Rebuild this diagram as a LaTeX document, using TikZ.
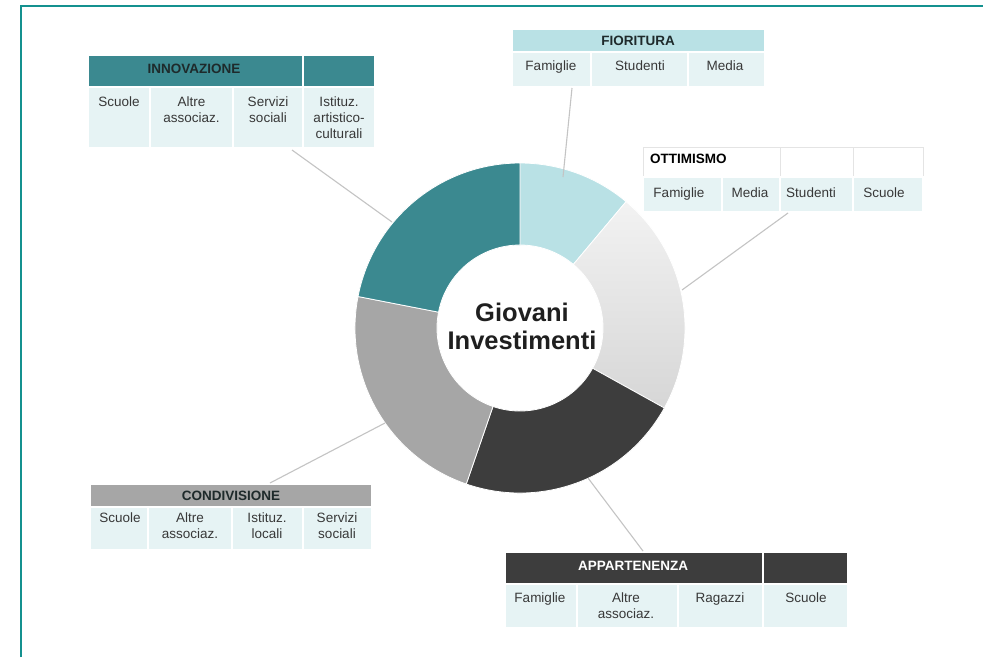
\documentclass[tikz,border=0pt]{standalone}
\usepackage{fontspec}
\setmainfont{Liberation Sans}
\definecolor{bordercol}{HTML}{14918F}
\definecolor{tealS}{HTML}{3B8990}
\definecolor{segLB}{HTML}{B9E1E5}
\definecolor{segDark}{HTML}{3D3D3D}
\definecolor{segGrey}{HTML}{A6A6A6}
\definecolor{cellbg}{HTML}{E6F3F4}
\definecolor{txtgray}{HTML}{383838}
\definecolor{hdrtxt}{HTML}{1E2A2B}
\definecolor{lineGray}{HTML}{C4C4C4}
\definecolor{hdrline}{HTML}{E4E4E4}
\begin{document}
\begin{tikzpicture}[x=1pt,y=-1pt,
  txt/.style={font=\fontsize{13.5}{16}\selectfont, text=txtgray, align=center, inner sep=0pt, anchor=north},
  hdr/.style={font=\bfseries\fontsize{13.5}{16}\selectfont, text=hdrtxt, inner sep=0pt},
  bodycell/.style={fill=cellbg, draw=white, line width=1.5pt},
  hdrcell/.style={draw=white, line width=1.5pt},
  conn/.style={draw=lineGray, line width=1.1pt},
  sep/.style={draw=white, line width=0.8pt}]
\useasboundingbox (0,0) rectangle (983,657);
\fill[white] (0,0) rectangle (983,657);
\draw[bordercol, line width=2.6pt] (21,657) -- (21,6) -- (983,6);

% ---------------- donut ----------------
\begin{scope}[shift={(520,328)}]
\fill[segLB,sep] (-90:165) arc[start angle=-90,end angle=-50,radius=165] -- (-50:83) arc[start angle=-50,end angle=-90,radius=83] -- cycle;
\shade[top color=white!95!black, bottom color=white!84!black] (-50:165) arc[start angle=-50,end angle=29,radius=165] -- (29:83) arc[start angle=29,end angle=-50,radius=83] -- cycle;
\draw[sep] (-50:165) arc[start angle=-50,end angle=29,radius=165] -- (29:83) arc[start angle=29,end angle=-50,radius=83] -- cycle;
\fill[segDark,sep] (29:165) arc[start angle=29,end angle=109,radius=165] -- (109:83) arc[start angle=109,end angle=29,radius=83] -- cycle;
\fill[segGrey,sep] (109:165) arc[start angle=109,end angle=191,radius=165] -- (191:83) arc[start angle=191,end angle=109,radius=83] -- cycle;
\fill[tealS,sep] (191:165) arc[start angle=191,end angle=270,radius=165] -- (270:83) arc[start angle=270,end angle=191,radius=83] -- cycle;
\fill[white] (0,0) circle[radius=82];
\end{scope}
\node[font=\bfseries\fontsize{25.5}{28}\selectfont, text=black!88, align=center, inner sep=0pt] (center) at (522,326) {Giovani\\Investimenti};

% ---------------- INNOVAZIONE ----------------
\path[hdrcell, fill=tealS] (88,55) rectangle (303,87);
\path[hdrcell, fill=tealS] (303,55) rectangle (375,87);
\node[hdr] (innoH) at (194,69) {INNOVAZIONE};
\path[bodycell] (88,87) rectangle (150,148);
\path[bodycell] (150,87) rectangle (233,148);
\path[bodycell] (233,87) rectangle (303,148);
\path[bodycell] (303,87) rectangle (375,148);
\node[txt] (inno1) at (119,97) {Scuole};
\node[txt] (inno2) at (191.5,97) {Altre\\associaz.};
\node[txt] (inno3) at (268,97) {Servizi\\sociali};
\node[txt] (inno4) at (339,97) {Istituz.\\artistico-\\culturali};

% ---------------- FIORITURA ----------------
\path[hdrcell, fill=segLB] (512,29) rectangle (765,52);
\node[hdr] (fiorH) at (638,40.5) {FIORITURA};
\path[bodycell] (512,52) rectangle (591,87);
\path[bodycell] (591,52) rectangle (688,87);
\path[bodycell] (688,52) rectangle (765,87);
\node[txt] (fior1) at (551,61) {Famiglie};
\node[txt] (fior2) at (640,61) {Studenti};
\node[txt] (fior3) at (725,61) {Media};

% ---------------- OTTIMISMO ----------------
\path[draw=hdrline, line width=1pt, fill=white] (643,147) rectangle (780,177);
\path[draw=hdrline, line width=1pt, fill=white] (780,147) rectangle (853,177);
\path[draw=hdrline, line width=1pt, fill=white] (853,147) rectangle (923,177);
\node[hdr, text=black, anchor=west] (ottH) at (650,159) {OTTIMISMO};
\path[bodycell] (643,177) rectangle (722,212);
\path[bodycell] (722,177) rectangle (780,212);
\path[bodycell] (780,177) rectangle (853,212);
\path[bodycell] (853,177) rectangle (923,212);
\node[txt] (ott1) at (679,188) {Famiglie};
\node[txt] (ott2) at (750,188) {Media};
\node[txt] (ott3) at (811,188) {Studenti};
\node[txt] (ott4) at (884,188) {Scuole};

% ---------------- CONDIVISIONE ----------------
\path[hdrcell, fill=segGrey] (90,484) rectangle (372,507);
\node[hdr] (condH) at (231,496) {CONDIVISIONE};
\path[bodycell] (90,507) rectangle (148,550);
\path[bodycell] (148,507) rectangle (232,550);
\path[bodycell] (232,507) rectangle (303,550);
\path[bodycell] (303,507) rectangle (372,550);
\node[txt] (cond1) at (120,513) {Scuole};
\node[txt] (cond2) at (190,513) {Altre\\associaz.};
\node[txt] (cond3) at (267,513) {Istituz.\\locali};
\node[txt] (cond4) at (337,513) {Servizi\\sociali};

% ---------------- APPARTENENZA ----------------
\path[hdrcell, fill=segDark] (505,552) rectangle (763,584);
\path[hdrcell, fill=segDark] (763,552) rectangle (848,584);
\node[hdr, text=white] (appH) at (633,566) {APPARTENENZA};
\path[bodycell] (505,584) rectangle (577,628);
\path[bodycell] (577,584) rectangle (678,628);
\path[bodycell] (678,584) rectangle (763,628);
\path[bodycell] (763,584) rectangle (848,628);
\node[txt] (app1) at (540,593) {Famiglie};
\node[txt] (app2) at (626,593) {Altre\\associaz.};
\node[txt] (app3) at (720,593) {Ragazzi};
\node[txt] (app4) at (806,593) {Scuole};

% ---------------- connectors ----------------
\coordinate (innoA) at (292,150);
\coordinate (innoB) at (392,222);
\coordinate (fiorA) at (572,88);
\coordinate (fiorB) at (563,177);
\coordinate (ottA) at (788,213);
\coordinate (ottB) at (682,290);
\coordinate (condA) at (270,483);
\coordinate (condB) at (385,423);
\coordinate (appA) at (643,551);
\coordinate (appB) at (588,478);
\draw[conn] (innoA) -- (innoB);
\draw[conn] (fiorA) -- (fiorB);
\draw[conn] (ottA) -- (ottB);
\draw[conn] (condA) -- (condB);
\draw[conn] (appA) -- (appB);
\end{tikzpicture}
\end{document}
